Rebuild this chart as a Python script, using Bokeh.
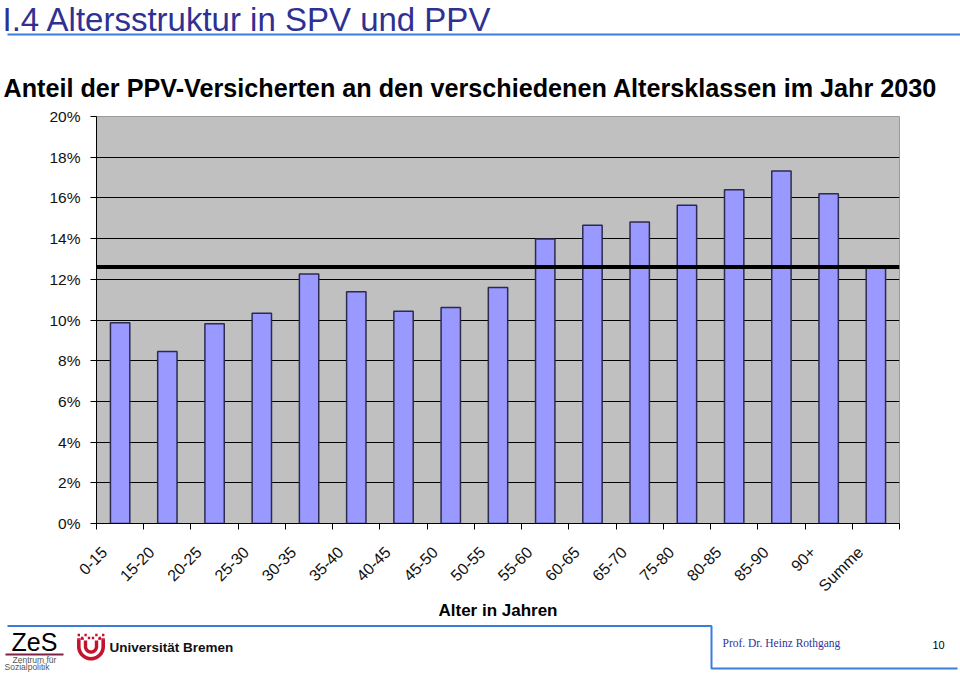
import math
import numpy as np
from bokeh.plotting import figure
from bokeh.models import (Range1d, FixedTicker, Span, CustomJSTickFormatter,
                          PrintfTickFormatter, ColumnDataSource)
from bokeh.layouts import column
from bokeh.embed import file_html
from bokeh.resources import INLINE
from bokeh.core.properties import value

# ---------------- data ----------------
altersklassen = ["0-15", "15-20", "20-25", "25-30", "30-35", "35-40", "40-45",
                 "45-50", "50-55", "55-60", "60-65", "65-70", "75-80", "80-85",
                 "85-90", "90+", "Summe"]
anteil_ppv = [9.87, 8.45, 9.82, 10.33, 12.26, 11.39, 10.43, 10.61, 11.6,
              13.98, 14.66, 14.81, 15.64, 16.4, 17.32, 16.2, 12.6]
durchschnitt = 12.6
y_ticks = [0, 2, 4, 6, 8, 10, 12, 14, 16, 18, 20]

titel = "I.4 Altersstruktur in SPV und PPV"
untertitel = "Anteil der PPV-Versicherten an den verschiedenen Altersklassen im Jahr 2030"
x_titel = "Alter in Jahren"

FONT = "Liberation Sans"
W = 960
H_HEAD, H_MAIN, H_FOOT = 102, 520, 51
BLUE_LINE = "#3b7dd8"
BASE_FIX = 0.36   # empirical shift of the rendered alphabetic baseline


def blank(h):
    f = figure(width=W, height=h, x_range=Range1d(0, W), y_range=Range1d(h, 0),
               toolbar_location=None, output_backend="svg", min_border=0,
               x_axis_type=None, y_axis_type=None, outline_line_color=None,
               background_fill_color="white", border_fill_color="white")
    f.frame_align = False
    f.grid.visible = False
    return f


def txt(f, x, y, s, size, color="black", font=FONT, style="normal"):
    f.text(x=[x], y=[y - BASE_FIX * size], text=[s], text_font=value(font),
           text_font_size=f"{size}px", text_color=color, text_font_style=style,
           text_baseline="alphabetic", text_align="left")


# ---------------- header ----------------
head = blank(H_HEAD)
txt(head, 2, 30.5, titel, 33, color="#2e3192")
head.segment(x0=[7], y0=[34], x1=[W], y1=[34], line_color=BLUE_LINE, line_width=2)
txt(head, 3, 97, untertitel, 25.2, style="bold")

# ---------------- main chart ----------------
n = len(altersklassen)
x_centers = [i + 0.5 for i in range(n)]
src = ColumnDataSource(dict(x=x_centers, top=anteil_ppv, name=altersklassen))

p = figure(width=W, height=H_MAIN, x_range=Range1d(0, n),
           y_range=Range1d(y_ticks[0], y_ticks[-1]),
           toolbar_location=None, output_backend="svg",
           min_border_left=96, min_border_right=61, min_border_top=14,
           min_border_bottom=99,
           background_fill_color="#c0c0c0", border_fill_color="white",
           outline_line_color="#9a9a9a", outline_line_width=1)
p.frame_align = False

p.vbar(x="x", top="top", width=0.41, source=src, fill_color="#9999ff",
       line_color="#2b2b50", line_width=1.5)

p.add_layout(Span(location=durchschnitt, dimension="width",
                  line_color="black", line_width=4))

p.xgrid.visible = False
p.ygrid.ticker = FixedTicker(ticks=y_ticks[1:-1])
p.ygrid.grid_line_color = "black"
p.ygrid.grid_line_width = 1

xa = p.xaxis[0]
xa.ticker = FixedTicker(ticks=[c - 0.33 for c in x_centers],
                        minor_ticks=list(range(n + 1)))
xa.formatter = CustomJSTickFormatter(args=dict(labels=altersklassen),
                                     code="return labels[Math.floor(tick)] || '';")
xa.major_label_orientation = math.pi / 4
xa.major_tick_in = 0
xa.major_tick_out = 0
xa.minor_tick_in = 0
xa.minor_tick_out = 6
xa.minor_tick_line_color = "black"
xa.axis_line_color = "black"
xa.major_label_text_font = FONT
xa.major_label_text_font_size = "16px"
xa.major_label_text_color = "#111111"
xa.major_label_standoff = 20
xa.axis_label = x_titel
xa.axis_label_text_font = FONT
xa.axis_label_text_font_size = "17px"
xa.axis_label_text_font_style = "bold"
xa.axis_label_text_color = "black"
xa.axis_label_standoff = -3

ya = p.yaxis[0]
ya.ticker = FixedTicker(ticks=y_ticks)
ya.formatter = PrintfTickFormatter(format="%d%%")
ya.major_tick_in = 0
ya.major_tick_out = 6
ya.minor_tick_out = 0
ya.minor_tick_in = 0
ya.major_tick_line_color = "black"
ya.axis_line_color = "black"
ya.major_label_text_font = FONT
ya.major_label_text_font_size = "15.5px"
ya.major_label_text_color = "#111111"
ya.major_label_standoff = 10

# ---------------- footer ----------------
foot = blank(H_FOOT)
foot.line(x=[7, 711, 711, 957], y=[3.5, 3.5, 46, 46], line_color=BLUE_LINE, line_width=2)
# ZeS logo
txt(foot, 11, 28, "ZeS", 25)
foot.segment(x0=[5], y0=[32], x1=[63], y1=[32], line_color="#7a2343", line_width=2)
txt(foot, 12, 40.5, "Zentrum für", 8.5, color="#555555")
txt(foot, 4, 47.5, "Sozialpolitik", 8.5, color="#555555")
# Universität Bremen logo (stylised U)
red = "#c4122f"
cx, cy = 90.5, 24.0
th = np.linspace(math.pi, 0, 40)
for r_out, r_in, top in [(14.0, 10.4, 17.0), (7.2, 3.8, 18.0)]:
    ox = [cx - r_out] + list(cx + r_out * np.cos(th)) + [cx + r_out]
    oy = [top] + list(cy + r_out * np.sin(th)) + [top]
    ix = [cx + r_in] + list(cx + r_in * np.cos(th[::-1])) + [cx - r_in]
    iy = [top] + list(cy + r_in * np.sin(th[::-1])) + [top]
    foot.patch(x=ox + ix, y=oy + iy, fill_color=red, line_color=None)
qx = [cx - 12.2, cx - 5.4, cx + 5.4, cx + 12.2, cx - 8.8, cx - 2.0, cx + 2.0, cx + 8.8]
qy = [12.5, 12.5, 12.5, 12.5, 15.5, 15.5, 15.5, 15.5]
foot.rect(x=qx, y=qy, width=2.4, height=2.4, fill_color=red, line_color=None)
foot.rect(x=[cx - 12.2, cx - 8.8, cx + 8.8, cx + 12.2], y=[16.5] * 4, width=3.4,
          height=1.5, fill_color=red, line_color=None)
txt(foot, 109, 30, "Universität Bremen", 13.5, color="#111111", style="bold")
# right box
txt(foot, 722, 25, "Prof. Dr. Heinz Rothgang", 11.5, color="#333399",
    font="Liberation Serif")
txt(foot, 932, 26, "10", 11)

layout = column(head, p, foot, spacing=0)
open("out.html", "w").write(file_html(layout, INLINE))
